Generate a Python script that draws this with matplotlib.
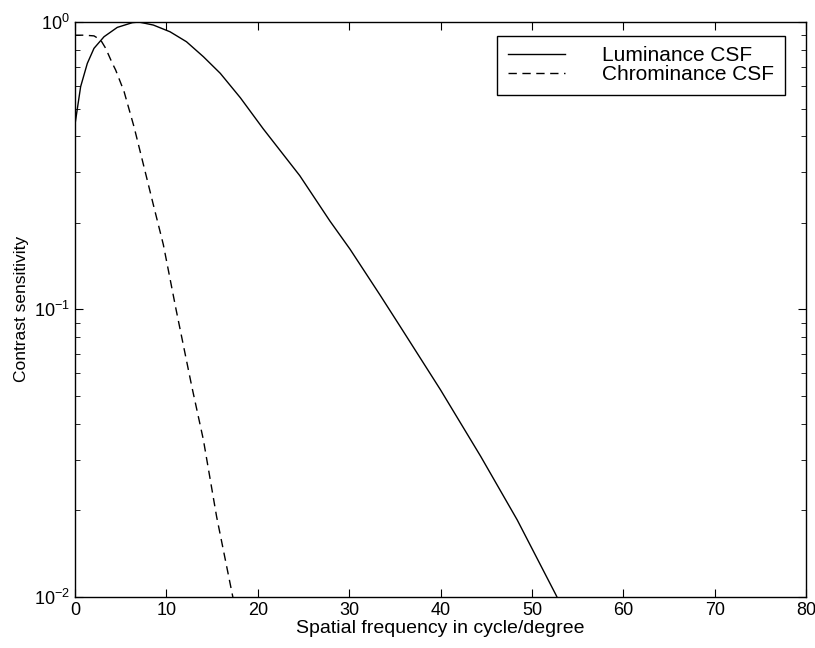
import matplotlib
matplotlib.use("Agg")
import matplotlib.pyplot as plt

# Values
lum_freq = [0.0, 0.62, 1.35, 2.08, 3.18, 4.63, 6.28, 7.0, 8.58, 10.4, 12.2,
            14.06, 15.9, 18.1, 20.6, 24.6, 27.9, 30.1, 33.4, 35.6, 40.0,
            44.4, 48.4, 52.6, 54.0]
lum_csf = [0.44, 0.596, 0.718, 0.81, 0.889, 0.958, 0.995, 1.0, 0.976, 0.925,
           0.854, 0.757, 0.663, 0.545, 0.425, 0.292, 0.203, 0.162, 0.112,
           0.0871, 0.0525, 0.0308, 0.0185, 0.0102, 0.0083]

chr_freq = [0.0, 1.0, 2.08, 2.81, 3.36, 4.09, 4.45, 5.37, 6.46, 7.48, 8.58,
            9.67, 11.06, 12.78, 14.05, 15.5, 17.27, 17.8]
chr_csf = [0.90, 0.90, 0.895, 0.866, 0.81, 0.718, 0.681, 0.573, 0.432, 0.32,
           0.231, 0.168, 0.1, 0.054, 0.0352, 0.019, 0.01, 0.0085]

plt.rcParams['font.family'] = ['Liberation Sans', 'DejaVu Sans']

fig = plt.figure(figsize=(8.15, 6.48), dpi=100)
ax = fig.add_axes([0.092, 0.079, 0.897, 0.887])

ax.semilogy(lum_freq, lum_csf, color='black', lw=1.0, label='Luminance CSF')
ax.semilogy(chr_freq, chr_csf, color='black', lw=1.0, dashes=(6, 4),
            label='Chrominance CSF')

ax.set_xlim(0, 80)
ax.set_ylim(0.01, 1.0)
ax.set_xticks(range(0, 81, 10))
ax.tick_params(which='both', direction='in', top=True, right=True, labelsize=13)
ax.tick_params(which='major', length=6)
ax.tick_params(which='minor', length=3.5)
for s in ax.spines.values():
    s.set_linewidth(1.0)

ax.set_xlabel('Spatial frequency in cycle/degree', fontsize=14, labelpad=1)
ax.set_ylabel('Contrast sensitivity', fontsize=12.5, labelpad=4)

leg = ax.legend(loc='upper right', bbox_to_anchor=(0.971, 0.976),
                borderaxespad=0.0, fontsize=15, handlelength=2.75,
                fancybox=False, framealpha=1, edgecolor='black',
                labelspacing=0.0, handletextpad=1.8, borderpad=0.5)
leg.get_frame().set_linewidth(1.0)

fig.savefig('out.png', dpi=100)
